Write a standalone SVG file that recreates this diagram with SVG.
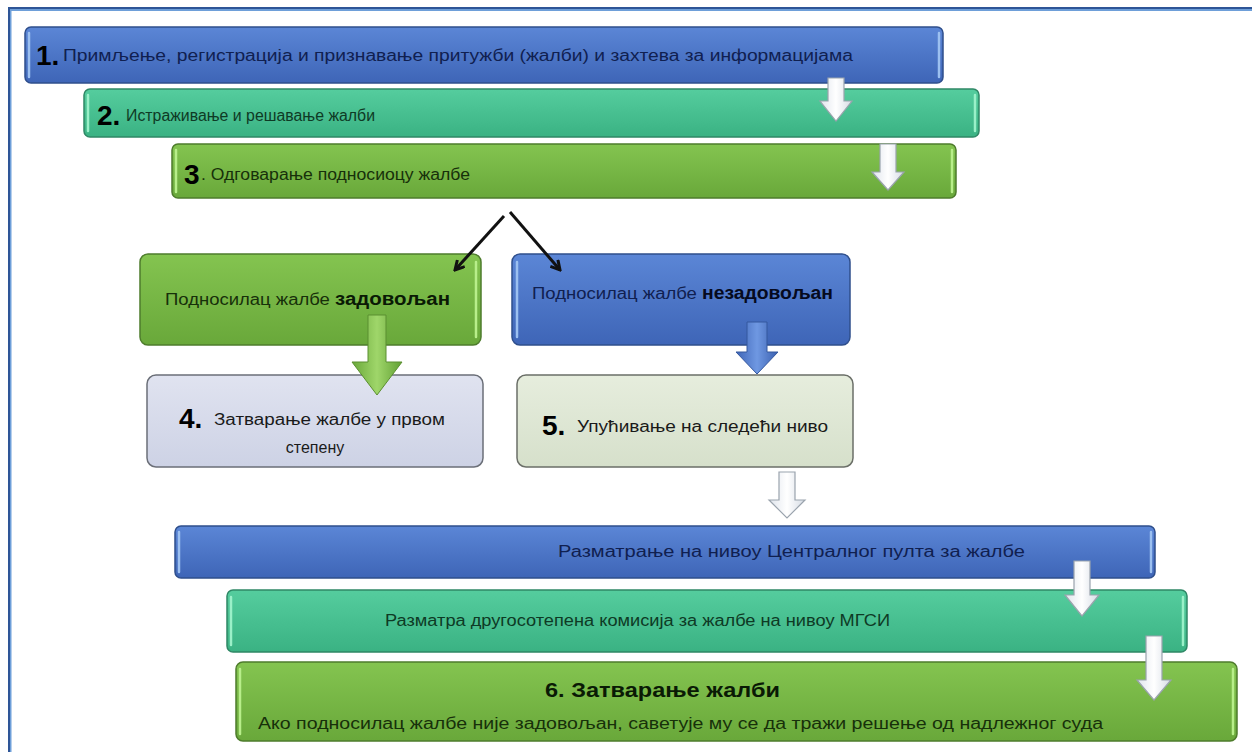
<svg xmlns="http://www.w3.org/2000/svg" width="1252" height="752" viewBox="0 0 1252 752">
<defs>
<linearGradient id="gBlue" x1="0" y1="0" x2="0" y2="1"><stop offset="0" stop-color="#5b86d6"/><stop offset="1" stop-color="#3e65b7"/></linearGradient>
<linearGradient id="gTeal" x1="0" y1="0" x2="0" y2="1"><stop offset="0" stop-color="#55cd9e"/><stop offset="1" stop-color="#3ab283"/></linearGradient>
<linearGradient id="gGreen" x1="0" y1="0" x2="0" y2="1"><stop offset="0" stop-color="#84c450"/><stop offset="1" stop-color="#69a83a"/></linearGradient>
<linearGradient id="gLav" x1="0" y1="0" x2="0" y2="1"><stop offset="0" stop-color="#e0e3f0"/><stop offset="1" stop-color="#cdd2e5"/></linearGradient>
<linearGradient id="gSage" x1="0" y1="0" x2="0" y2="1"><stop offset="0" stop-color="#e6eddd"/><stop offset="1" stop-color="#d6e0cb"/></linearGradient>
<linearGradient id="gArrow" x1="0" y1="0" x2="1" y2="0"><stop offset="0" stop-color="#dfe4ec"/><stop offset="0.5" stop-color="#ffffff"/><stop offset="1" stop-color="#d5dbe4"/></linearGradient>
<linearGradient id="gArrowGreen" x1="0" y1="0" x2="1" y2="0"><stop offset="0" stop-color="#6aa83a"/><stop offset="0.5" stop-color="#9fd66a"/><stop offset="1" stop-color="#62a034"/></linearGradient>
<linearGradient id="gArrowBlue" x1="0" y1="0" x2="1" y2="0"><stop offset="0" stop-color="#3e65b7"/><stop offset="0.5" stop-color="#6f98e2"/><stop offset="1" stop-color="#3a60b0"/></linearGradient>
<marker id="vhead" markerWidth="12" markerHeight="12" refX="10" refY="6" orient="auto" markerUnits="userSpaceOnUse">
<polyline points="1,1 10,6 1,11" fill="none" stroke="#111" stroke-width="3"/>
</marker>
</defs>
<style>
.bBlue{fill:url(#gBlue);stroke:#2f4f8c;stroke-width:1.5}
.bTeal{fill:url(#gTeal);stroke:#2f8866;stroke-width:1.5}
.bGreen{fill:url(#gGreen);stroke:#4e7c2c;stroke-width:1.5}
.bLav{fill:url(#gLav);stroke:#6b6f78;stroke-width:1.5}
.bSage{fill:url(#gSage);stroke:#6b6f68;stroke-width:1.5}
.hl{fill:none;stroke-width:2.5;stroke-linecap:round}
.hlBlue{stroke:#9cc0f0}
.hlTeal{stroke:#9af0c8}
.hlGreen{stroke:#b8ee8a}
.t{font-family:"Liberation Sans","Noto Sans",sans-serif;font-size:16px}
.tb{font-family:"Liberation Sans","Noto Sans",sans-serif;font-weight:bold}
.num{font-family:"Liberation Sans","Noto Sans",sans-serif;font-weight:bold;font-size:28px;fill:#000}
.cBlue{fill:#102050}
.cTeal{fill:#0e3a25}
.cGreen{fill:#17300a}
.cDark{fill:#1a1a1a}
.arW{fill:url(#gArrow);stroke:#9aa3ad;stroke-width:1.2}
.arG{fill:url(#gArrowGreen);stroke:#5b8f30;stroke-width:1}
.arB{fill:url(#gArrowBlue);stroke:#35589e;stroke-width:1}
.conn{stroke:#111;stroke-width:3;fill:none}
</style>
<rect x="0" y="0" width="1252" height="752" fill="#ffffff"/>
<g id="frame">
<rect x="8" y="7" width="1244" height="2" fill="#2e5597"/>
<rect x="8" y="9" width="1244" height="2" fill="#6e9fd9"/>
<rect x="8" y="7" width="2" height="745" fill="#2e5597"/>
<rect x="10" y="9" width="1.5" height="743" fill="#6e9fd9"/>
</g>

<g id="n1">
<rect class="bBlue" x="25" y="27" width="918" height="56" rx="6"/>
<line class="hl hlBlue" x1="29" y1="33" x2="29" y2="77"/>
<line class="hl hlBlue" x1="939" y1="33" x2="939" y2="77"/>
<text x="36" y="65" class="num">1.</text>
<text x="63" y="61" class="t cBlue" textLength="790" lengthAdjust="spacingAndGlyphs">Примљење, регистрација и признавање притужби (жалби) и захтева за информацијама</text>
</g>

<g id="n2">
<rect class="bTeal" x="84" y="89" width="895" height="48" rx="6"/>
<line class="hl hlTeal" x1="88" y1="95" x2="88" y2="131"/>
<line class="hl hlTeal" x1="975" y1="95" x2="975" y2="131"/>
<text x="97" y="125" class="num">2.</text>
<text x="126" y="121" class="t cTeal" textLength="249" lengthAdjust="spacingAndGlyphs">Истраживање и решавање жалби</text>
</g>

<g id="n3">
<rect class="bGreen" x="172" y="144" width="784" height="54" rx="6"/>
<line class="hl hlGreen" x1="176" y1="150" x2="176" y2="192"/>
<line class="hl hlGreen" x1="952" y1="150" x2="952" y2="192"/>
<text x="184" y="184" class="num">3</text>
<text x="201" y="180" class="t cGreen" textLength="269" lengthAdjust="spacingAndGlyphs">. Одговарање подносиоцу жалбе</text>
</g>

<g id="n_sat">
<rect class="bGreen" x="140" y="254" width="341" height="91" rx="8"/>
<line class="hl hlGreen" x1="476" y1="262" x2="476" y2="337"/>
<text x="165" y="305" class="t cGreen" font-size="17"><tspan textLength="170" lengthAdjust="spacingAndGlyphs">Подносилац жалбе </tspan><tspan class="tb" fill="#0a1a05" font-size="18" textLength="115" lengthAdjust="spacingAndGlyphs">задовољан</tspan></text>
</g>

<g id="n_unsat">
<rect class="bBlue" x="512" y="254" width="338" height="91" rx="8"/>
<line class="hl hlBlue" x1="517" y1="262" x2="517" y2="337"/>
<text x="532" y="299" class="t cBlue" font-size="17"><tspan textLength="170" lengthAdjust="spacingAndGlyphs">Подносилац жалбе </tspan><tspan class="tb" fill="#050a20" font-size="18" textLength="131" lengthAdjust="spacingAndGlyphs">незадовољан</tspan></text>
</g>

<g id="n4">
<rect class="bLav" x="147" y="375" width="336" height="92" rx="9"/>
<text x="179" y="428" class="num" font-size="29">4.</text>
<text x="214" y="425" class="t cDark" font-size="17" textLength="231" lengthAdjust="spacingAndGlyphs">Затварање жалбе у првом</text>
<text x="315" y="453" class="t cDark" font-size="17" text-anchor="middle">степену</text>
</g>

<g id="n5">
<rect class="bSage" x="517" y="375" width="336" height="92" rx="9"/>
<text x="542" y="435" class="num" font-size="29">5.</text>
<text x="577" y="432" class="t cDark" font-size="17" textLength="251" lengthAdjust="spacingAndGlyphs">Упућивање на следећи ниво</text>
</g>

<g id="n_central">
<rect class="bBlue" x="175" y="526" width="980" height="52" rx="6"/>
<line class="hl hlBlue" x1="179" y1="532" x2="179" y2="572"/>
<line class="hl hlBlue" x1="1151" y1="532" x2="1151" y2="572"/>
<text x="558" y="557" class="t cBlue" font-size="17" textLength="467" lengthAdjust="spacingAndGlyphs">Разматрање на нивоу Централног пулта за жалбе</text>
</g>

<g id="n_second">
<rect class="bTeal" x="227" y="590" width="960" height="62" rx="6"/>
<line class="hl hlTeal" x1="231" y1="597" x2="231" y2="645"/>
<line class="hl hlTeal" x1="1183" y1="597" x2="1183" y2="645"/>
<text x="385" y="626" class="t cTeal" font-size="17" textLength="505" lengthAdjust="spacingAndGlyphs">Разматра другосотепена комисија за жалбе на нивоу МГСИ</text>
</g>

<g id="n6">
<rect class="bGreen" x="236" y="662" width="1001" height="79" rx="7"/>
<line class="hl hlGreen" x1="240" y1="669" x2="240" y2="734"/>
<line class="hl hlGreen" x1="1233" y1="669" x2="1233" y2="734"/>
<text x="545" y="697" class="tb" font-size="20" fill="#0a1a05" textLength="235" lengthAdjust="spacingAndGlyphs">6. Затварање жалби</text>
<text x="258" y="729" class="t cGreen" font-size="17" textLength="845" lengthAdjust="spacingAndGlyphs">Ако подносилац жалбе није задовољан, саветује му се да тражи решење од надлежног суда</text>
</g>

<g id="connectors">
<path class="arW" d="M828,78 H844 V101 H852 L836,121 L820,101 H828 Z"/>
<path class="arW" d="M880,144 H896 V172 H904 L888,190 L872,172 H880 Z"/>
<path class="arG" d="M368,315 H386 V362 H402 L377,395 L352,362 H368 Z"/>
<path class="arB" d="M747,322 H767 V352 H778 L757,374 L736,352 H747 Z"/>
<path class="arW" d="M779,472 H795 V500 H805 L787,518 L769,500 H779 Z"/>
<path class="arW" d="M1074,561 H1090 V595 H1099 L1082,616 L1065,595 H1074 Z"/>
<path class="arW" d="M1146,636 H1162 V680 H1171 L1154,700 L1137,680 H1146 Z"/>
<line class="conn" x1="504" y1="216" x2="455" y2="270" marker-end="url(#vhead)"/>
<line class="conn" x1="510" y1="212" x2="560" y2="270" marker-end="url(#vhead)"/>
</g>
</svg>
